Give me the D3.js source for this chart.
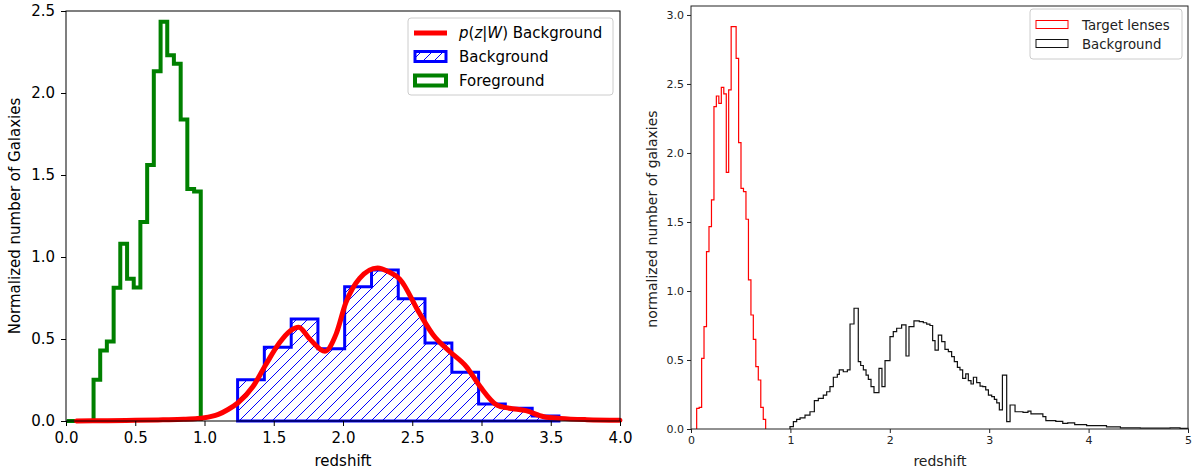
<!DOCTYPE html>
<html>
<head>
<meta charset="utf-8">
<script src="https://d3js.org/d3.v7.min.js"></script>
<style>
    body { margin: 0; background: #fff; }
    svg { display: block; font-family: "DejaVu Sans", sans-serif; }
</style>
</head>
<body>
<svg width="1200" height="471"></svg>
<script>
// ---- left panel: foreground / background histograms and p(z|W)
const fgEdges = [0.005, 0.053, 0.102, 0.150, 0.199, 0.247, 0.295, 0.344, 0.392, 0.441, 0.489,
                 0.537, 0.586, 0.634, 0.683, 0.731, 0.779, 0.828, 0.876, 0.925, 0.973];
const fgValues = [0, 0, 0, 0, 0.251, 0.43, 0.485, 0.812, 1.081, 0.867, 0.814,
                  1.214, 1.561, 2.132, 2.434, 2.23, 2.179, 1.838, 1.414, 1.40];
const bgEdges = [1.239, 1.432, 1.626, 1.819, 2.012, 2.206, 2.399, 2.592, 2.786, 2.979, 3.172, 3.366, 3.559];
const bgValues = [0.251, 0.449, 0.622, 0.441, 0.818, 0.92, 0.745, 0.476, 0.298, 0.104, 0.078, 0.031];
const pzZ = [0.075, 0.3, 0.5, 0.7, 0.85, 0.95, 1.0, 1.05, 1.1, 1.17, 1.24, 1.35, 1.44, 1.54, 1.62, 1.68,
             1.76, 1.87, 1.95, 2.02, 2.12, 2.25, 2.33, 2.41, 2.55, 2.65, 2.77, 2.89, 2.99, 3.11, 3.2,
             3.32, 3.45, 3.57, 3.76, 4.0];
const pzValues = [0.0, 0.002, 0.004, 0.007, 0.01, 0.015, 0.02, 0.028, 0.04, 0.07, 0.11, 0.21, 0.34, 0.475, 0.55, 0.572,
                  0.5, 0.425, 0.53, 0.72, 0.87, 0.933, 0.91, 0.865, 0.66, 0.526, 0.424, 0.332, 0.21, 0.098, 0.078,
                  0.063, 0.026, 0.016, 0.008, 0.004];
const leftXTicks = [0, 0.5, 1.0, 1.5, 2.0, 2.5, 3.0, 3.5, 4.0];
const leftYTicks = [0, 0.5, 1.0, 1.5, 2.0, 2.5];

// ---- right panel: target lenses / background
const lensEdges = [0.057, 0.082, 0.107, 0.131, 0.156, 0.181, 0.206, 0.231, 0.255, 0.280, 0.305, 0.330, 0.355, 0.379,
                   0.404, 0.429, 0.454, 0.479, 0.503, 0.528, 0.553, 0.578, 0.603, 0.627, 0.652, 0.677, 0.702, 0.727, 0.751];
const lensValues = [0.15, 0.157, 0.512, 0.742, 1.285, 1.466, 1.66, 2.336, 2.413, 2.36, 2.476, 2.428, 1.86, 2.457,
                    2.915, 2.915, 2.686, 2.075, 1.744, 1.72, 1.52, 1.08, 0.826, 0.65, 0.452, 0.355, 0.157, 0.07];
const srcEdges = [0.996, 1.03, 1.063, 1.097, 1.147, 1.197, 1.241, 1.281, 1.331, 1.365, 1.398, 1.432, 1.472, 1.492,
                  1.532, 1.573, 1.6, 1.64, 1.683, 1.707, 1.734, 1.761, 1.784, 1.811, 1.841, 1.891, 1.921, 1.952,
                  2.002, 2.035, 2.069, 2.119, 2.163, 2.193, 2.243, 2.297, 2.337, 2.371, 2.404, 2.431, 2.455, 2.488,
                  2.522, 2.555, 2.589, 2.622, 2.649, 2.68, 2.706, 2.733, 2.764, 2.79, 2.817, 2.841, 2.874, 2.908,
                  2.935, 2.965, 2.992, 3.025, 3.052, 3.076, 3.102, 3.133, 3.176, 3.21, 3.26, 3.34, 3.39, 3.42,
                  3.54, 3.57, 3.67, 3.74, 3.79, 3.86, 3.98, 4.18, 4.32, 4.52, 4.82, 4.92, 5.0];
const srcValues = [0.017, 0.053, 0.07, 0.08, 0.1, 0.125, 0.205, 0.222, 0.246, 0.27, 0.307, 0.375, 0.396, 0.428,
                   0.415, 0.428, 0.761, 0.875, 0.488, 0.46, 0.428, 0.391, 0.36, 0.307, 0.263, 0.44, 0.307, 0.495,
                   0.669, 0.705, 0.73, 0.754, 0.529, 0.742, 0.783, 0.778, 0.77, 0.76, 0.75, 0.64, 0.572, 0.68,
                   0.633, 0.577, 0.56, 0.524, 0.488, 0.447, 0.428, 0.367, 0.4, 0.35, 0.326, 0.375, 0.336, 0.31,
                   0.307, 0.283, 0.246, 0.234, 0.215, 0.19, 0.138, 0.391, 0.053, 0.174, 0.125, 0.12, 0.13, 0.109,
                   0.09, 0.06, 0.055, 0.041, 0.045, 0.031, 0.024, 0.015, 0.008, 0.006, 0.008, 0.004];
const rightXTicks = [0, 1, 2, 3, 4, 5];
const rightYTicks = [0, 0.5, 1.0, 1.5, 2.0, 2.5, 3.0];

const svg = d3.select("svg");

// hatch pattern for the background histogram
const defs = svg.append("defs");
const pat = defs.append("pattern")
    .attr("id", "hatch")
    .attr("patternUnits", "userSpaceOnUse")
    .attr("width", 11).attr("height", 11);
pat.append("rect").attr("width", 11).attr("height", 11).attr("fill", "#fff");
pat.append("path")
    .attr("d", "M-1,1 l2,-2 M0,11 l11,-11 M10,12 l2,-2")
    .attr("stroke", "#0000ff").attr("stroke-width", 1);

// step outline of a histogram
function stepPoints(edges, values) {
    const pts = [[edges[0], 0]];
    values.forEach((v, i) => {
        pts.push([edges[i], v]);
        pts.push([edges[i + 1], v]);
    });
    pts.push([edges[edges.length - 1], 0]);
    return pts;
}

function drawAxes(g, x, y, xt, yt, opts) {
    const h = y.range()[0];
    g.append("g")
        .attr("transform", `translate(0,${h})`)
        .call(d3.axisBottom(x).tickValues(xt).tickFormat(opts.xfmt)
            .tickSize(opts.tick).tickPadding(opts.pad))
        .call(a => a.select(".domain").remove())
        .call(a => a.selectAll(".tick line").attr("stroke", opts.color))
        .selectAll("text").attr("font-size", opts.fs).attr("fill", opts.color)
        .attr("font-family", "DejaVu Sans");
    g.append("g")
        .attr("transform", `translate(${x.range()[0]},0)`)
        .call(d3.axisLeft(y).tickValues(yt).tickFormat(d3.format(".1f"))
            .tickSize(opts.tick).tickPadding(opts.pad))
        .call(a => a.select(".domain").remove())
        .call(a => a.selectAll(".tick line").attr("stroke", opts.color))
        .selectAll("text").attr("font-size", opts.fs).attr("fill", opts.color)
        .attr("font-family", "DejaVu Sans");
}

function spines(g, x, y, color) {
    g.append("rect")
        .attr("x", x.range()[0]).attr("y", y.range()[1])
        .attr("width", x.range()[1] - x.range()[0])
        .attr("height", y.range()[0] - y.range()[1])
        .attr("fill", "none").attr("stroke", color).attr("stroke-width", 1);
}

// ================= left panel =================
const xL = d3.scaleLinear().domain([0, 4]).range([66, 620]);
const yL = d3.scaleLinear().domain([0, 2.5]).range([421, 11]);
const gL = svg.append("g");
const lineL = d3.line().x(d => xL(d[0])).y(d => yL(d[1]));

gL.append("path")
    .attr("d", lineL(stepPoints(bgEdges, bgValues)) + "Z")
    .attr("fill", "url(#hatch)")
    .attr("stroke", "#0000ff").attr("stroke-width", 3);

gL.append("path")
    .attr("d", lineL(stepPoints(fgEdges, fgValues)))
    .attr("fill", "none")
    .attr("stroke", "#008000").attr("stroke-width", 4);

gL.append("path")
    .datum(pzZ.map((z, i) => [z, pzValues[i]]))
    .attr("d", d3.line().x(d => xL(d[0])).y(d => yL(d[1])).curve(d3.curveMonotoneX))
    .attr("fill", "none")
    .attr("stroke", "#ff0000").attr("stroke-width", 5)
    .attr("stroke-linecap", "round");

spines(gL, xL, yL, "#000");
drawAxes(gL, xL, yL, leftXTicks, leftYTicks,
    { xfmt: d3.format(".1f"), tick: 5, pad: 6, fs: 15, color: "#000" });

gL.append("text")
    .attr("x", 343).attr("y", 466)
    .attr("text-anchor", "middle").attr("font-size", 15)
    .text("redshift");
gL.append("text")
    .attr("transform", "translate(20,216) rotate(-90)")
    .attr("text-anchor", "middle").attr("font-size", 15)
    .text("Normalized number of Galaxies");

// legend
const legL = gL.append("g");
legL.append("rect")
    .attr("x", 408).attr("y", 18).attr("width", 205).attr("height", 77).attr("rx", 3)
    .attr("fill", "#fff").attr("fill-opacity", 0.8)
    .attr("stroke", "#cccccc").attr("stroke-width", 1);
legL.append("line")
    .attr("x1", 414).attr("x2", 447).attr("y1", 33).attr("y2", 33)
    .attr("stroke", "#ff0000").attr("stroke-width", 5);
legL.append("rect")
    .attr("x", 415).attr("y", 51.5).attr("width", 31).attr("height", 10)
    .attr("fill", "url(#hatch)").attr("stroke", "#0000ff").attr("stroke-width", 3);
legL.append("rect")
    .attr("x", 415).attr("y", 75.5).attr("width", 31).attr("height", 10)
    .attr("fill", "#fff").attr("stroke", "#008000").attr("stroke-width", 4);
const t1 = legL.append("text").attr("x", 459).attr("y", 38).attr("font-size", 15);
t1.append("tspan").attr("font-style", "italic").text("p");
t1.append("tspan").text("(");
t1.append("tspan").attr("font-style", "italic").text("z");
t1.append("tspan").text("|");
t1.append("tspan").attr("font-style", "italic").text("W");
t1.append("tspan").text(") Background");
legL.append("text").attr("x", 459).attr("y", 62).attr("font-size", 15).text("Background");
legL.append("text").attr("x", 459).attr("y", 86).attr("font-size", 15).text("Foreground");

// ================= right panel =================
const xR = d3.scaleLinear().domain([0, 5]).range([691, 1188]);
const yR = d3.scaleLinear().domain([0, 3.065]).range([429, 6]);
const gR = svg.append("g");
const lineR = d3.line().x(d => xR(d[0])).y(d => yR(d[1]));

gR.append("path")
    .attr("d", lineR(stepPoints(lensEdges, lensValues)))
    .attr("fill", "none").attr("stroke", "#ff0000").attr("stroke-width", 1.2);
gR.append("path")
    .attr("d", lineR(stepPoints(srcEdges, srcValues)))
    .attr("fill", "none").attr("stroke", "#111").attr("stroke-width", 1.2);

spines(gR, xR, yR, "#222");
drawAxes(gR, xR, yR, rightXTicks, rightYTicks,
    { xfmt: d3.format("d"), tick: 4, pad: 3, fs: 11, color: "#222" });

gR.append("text")
    .attr("x", 940).attr("y", 466)
    .attr("text-anchor", "middle").attr("font-size", 14).attr("fill", "#222")
    .text("redshift");
gR.append("text")
    .attr("transform", "translate(657,219) rotate(-90)")
    .attr("text-anchor", "middle").attr("font-size", 14).attr("fill", "#222")
    .text("normalized number of galaxies");

const legR = gR.append("g");
legR.append("rect")
    .attr("x", 1030).attr("y", 9).attr("width", 152).attr("height", 50).attr("rx", 3)
    .attr("fill", "#fff").attr("fill-opacity", 0.8)
    .attr("stroke", "#cccccc").attr("stroke-width", 1);
legR.append("rect")
    .attr("x", 1036).attr("y", 20.5).attr("width", 32).attr("height", 8)
    .attr("fill", "none").attr("stroke", "#ff0000").attr("stroke-width", 1);
legR.append("rect")
    .attr("x", 1036).attr("y", 39.5).attr("width", 32).attr("height", 8)
    .attr("fill", "none").attr("stroke", "#111").attr("stroke-width", 1);
legR.append("text").attr("x", 1082).attr("y", 29.5).attr("font-size", 13.3).attr("fill", "#222").text("Target lenses");
legR.append("text").attr("x", 1082).attr("y", 48.5).attr("font-size", 13.3).attr("fill", "#222").text("Background");
</script>
</body>
</html>
